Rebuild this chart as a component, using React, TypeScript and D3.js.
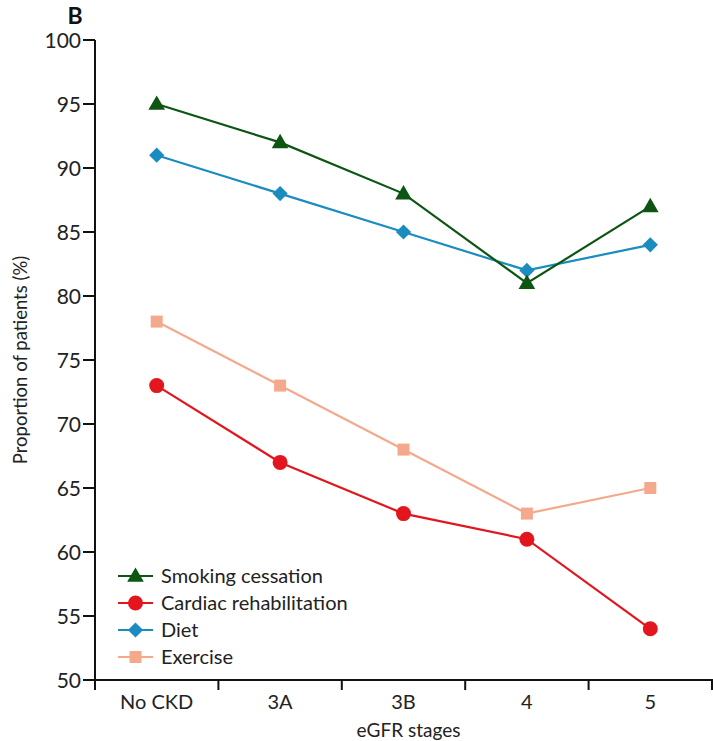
import React from "react";
import * as d3 from "d3";

const categories = ["No CKD", "3A", "3B", "4", "5"];
const smoking = [95, 92, 88, 81, 87];
const cardiac = [73, 67, 63, 61, 54];
const diet = [91, 88, 85, 82, 84];
const exercise = [78, 73, 68, 63, 65];
const yTicks = [50, 55, 60, 65, 70, 75, 80, 85, 90, 95, 100];

const seriesList = [
  { name: "Smoking cessation", values: smoking, color: "#0d5512", shape: "triangle" },
  { name: "Cardiac rehabilitation", values: cardiac, color: "#e3161e", shape: "circle" },
  { name: "Diet", values: diet, color: "#1a8cbf", shape: "diamond" },
  { name: "Exercise", values: exercise, color: "#f5a98c", shape: "square" },
];

const W = 713, H = 741;
const x0 = 95, x1 = 712, yTop = 40, yBot = 680;
const font = "Lato, 'Open Sans', sans-serif";

function Marker({ shape, cx, cy, color }: { shape: string; cx: number; cy: number; color: string }) {
  if (shape === "circle") return <circle cx={cx} cy={cy} r={7.5} fill={color} />;
  if (shape === "triangle") {
    const p = d3.symbol().type(d3.symbolTriangle).size(120)();
    return <path d={p!} transform={`translate(${cx},${cy + 1})`} fill={color} />;
  }
  if (shape === "diamond") {
    const p = d3.symbol().type(d3.symbolSquare).size(115)();
    return <path d={p!} transform={`translate(${cx},${cy}) rotate(45)`} fill={color} />;
  }
  const p = d3.symbol().type(d3.symbolSquare).size(144)();
  return <path d={p!} transform={`translate(${cx},${cy})`} fill={color} />;
}

export default function App() {
  const x = d3.scaleBand().domain(categories).range([x0, x1]);
  const y = d3.scaleLinear().domain([50, 100]).range([yBot, yTop]);
  const cx = (c: string) => (x(c) ?? 0) + x.bandwidth() / 2;
  const line = d3
    .line<number>()
    .x((_, i) => cx(categories[i]))
    .y((v) => y(v));
  const bounds = [...categories.map((c) => x(c) ?? 0), x1];

  return (
    <svg width={W} height={H} style={{ position: "absolute", left: 0, top: 0 }} fontFamily={font}>
      <rect width={W} height={H} fill="#fff" />
      <text x={75} y={24} fontSize={23} fontWeight="bold" textAnchor="middle" fill="#111">B</text>
      {/* y axis */}
      <line x1={x0} x2={x0} y1={yTop} y2={yBot} stroke="#111" strokeWidth={2} />
      {yTicks.map((t) => (
        <g key={t}>
          <line x1={x0 - 12} x2={x0} y1={y(t)} y2={y(t)} stroke="#111" strokeWidth={2} />
          <text x={x0 - 14} y={y(t)} dy="0.36em" fontSize={21} textAnchor="end" fill="#222">{t}</text>
        </g>
      ))}
      <text transform={`translate(27,${(yTop + yBot) / 2}) rotate(-90)`} fontSize={18.5} textAnchor="middle" fill="#222">
        Proportion of patients (%)
      </text>
      {/* x axis */}
      <line x1={x0 - 1} x2={x1 + 1} y1={yBot} y2={yBot} stroke="#111" strokeWidth={2} />
      {bounds.map((b, i) => (
        <line key={i} x1={b} x2={b} y1={yBot} y2={yBot + 10} stroke="#111" strokeWidth={2} />
      ))}
      {categories.map((c) => (
        <text key={c} x={cx(c)} y={yBot + 29} fontSize={20} textAnchor="middle" fill="#222">{c}</text>
      ))}
      <text x={(x0 + x1) / 2 + 5} y={737} fontSize={19} textAnchor="middle" fill="#222">eGFR stages</text>
      {/* series */}
      {[...seriesList].reverse().map((s) => (
        <g key={s.name}>
          <path d={line(s.values)!} fill="none" stroke={s.color} strokeWidth={2.2} />
          {s.values.map((v, i) => (
            <Marker key={i} shape={s.shape} cx={cx(categories[i])} cy={y(v)} color={s.color} />
          ))}
        </g>
      ))}
      {/* legend */}
      {seriesList.map((s, i) => {
        const ly = 576 + i * 27;
        return (
          <g key={s.name}>
            <line x1={118} x2={153} y1={ly} y2={ly} stroke={s.color} strokeWidth={2.2} />
            <Marker shape={s.shape} cx={135.5} cy={ly} color={s.color} />
            <text x={161} y={ly} dy="0.36em" fontSize={20} fill="#222">{s.name}</text>
          </g>
        );
      })}
    </svg>
  );
}
